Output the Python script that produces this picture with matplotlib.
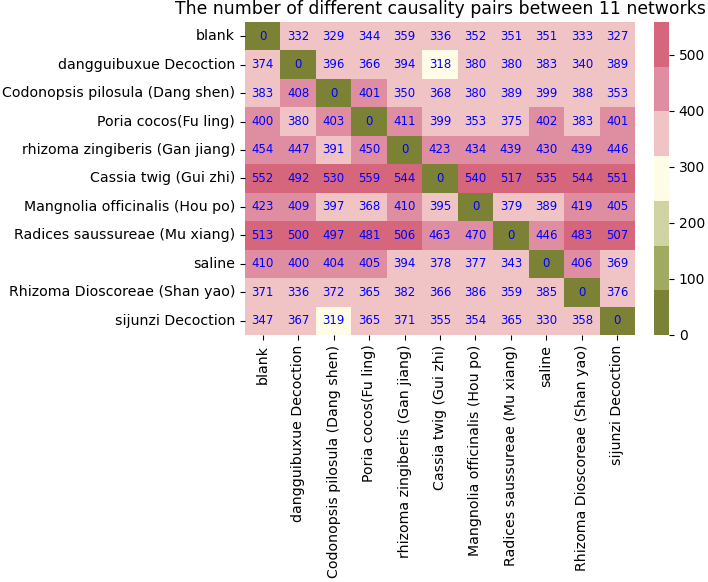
import numpy as np
import matplotlib
matplotlib.use("Agg")
import matplotlib.pyplot as plt
import seaborn as sns
from matplotlib.colors import ListedColormap

networks = ["blank", "dangguibuxue Decoction", "Codonopsis pilosula (Dang shen)",
            "Poria cocos(Fu ling)", "rhizoma zingiberis (Gan jiang)", "Cassia twig (Gui zhi)",
            "Mangnolia officinalis (Hou po)", "Radices saussureae (Mu xiang)", "saline",
            "Rhizoma Dioscoreae (Shan yao)", "sijunzi Decoction"]

counts = np.array([
    [0, 332, 329, 344, 359, 336, 352, 351, 351, 333, 327],
    [374, 0, 396, 366, 394, 318, 380, 380, 383, 340, 389],
    [383, 408, 0, 401, 350, 368, 380, 389, 399, 388, 353],
    [400, 380, 403, 0, 411, 399, 353, 375, 402, 383, 401],
    [454, 447, 391, 450, 0, 423, 434, 439, 430, 439, 446],
    [552, 492, 530, 559, 544, 0, 540, 517, 535, 544, 551],
    [423, 409, 397, 368, 410, 395, 0, 379, 389, 419, 405],
    [513, 500, 497, 481, 506, 463, 470, 0, 446, 483, 507],
    [410, 400, 404, 405, 394, 378, 377, 343, 0, 406, 369],
    [371, 336, 372, 365, 382, 366, 386, 359, 385, 0, 376],
    [347, 367, 319, 365, 371, 355, 354, 365, 330, 358, 0],
])

palette = ["#7b8236", "#a0aa61", "#d0d4a4", "#fefbe6", "#f0c4c4", "#df8ea1", "#d5667c"]
cmap = ListedColormap(palette)

fig = plt.figure(figsize=(7.08, 5.82), dpi=100)
ax = fig.add_axes([0.346, 0.4244, 0.551, 0.538])
cax = fig.add_axes([0.924, 0.4244, 0.021, 0.538])

sns.heatmap(counts, ax=ax, cbar_ax=cax, cmap=cmap, annot=True, fmt="d",
            annot_kws={"color": "blue", "fontsize": 8.5},
            xticklabels=networks, yticklabels=networks)
ax.set_title("The number of different causality pairs between 11 networks", fontsize=12.4)
ax.tick_params(axis="x", labelrotation=90, labelsize=10.2)
ax.tick_params(axis="y", labelrotation=0, labelsize=10.2)
cax.tick_params(labelsize=10)
cax.set_yticks([0, 100, 200, 300, 400, 500])

fig.savefig("out.png", dpi=100)
